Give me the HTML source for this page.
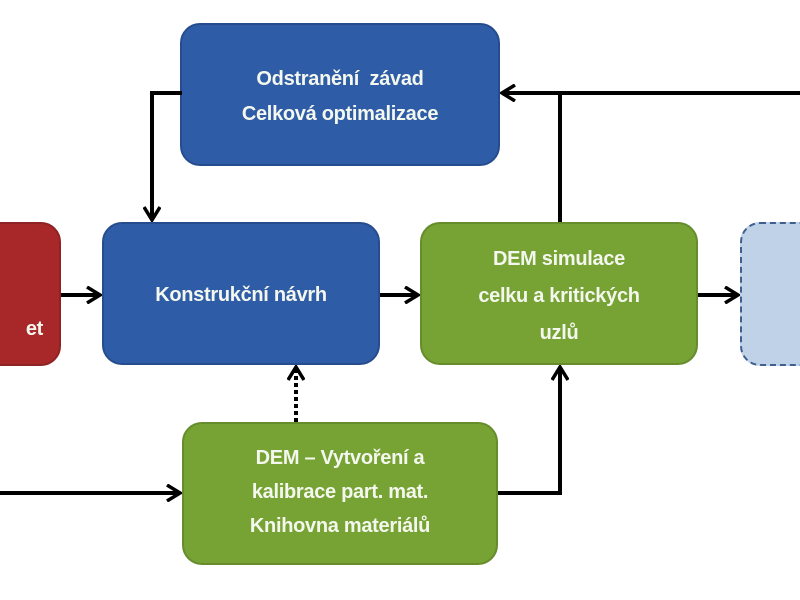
<!DOCTYPE html>
<html><head><meta charset="utf-8"><style>
body{margin:0;width:800px;height:600px;background:#fff;overflow:hidden;position:relative;font-family:"Liberation Sans",sans-serif}
.b{position:absolute;border-radius:20px;color:#f4f7ee;font-weight:bold;font-size:20px;display:flex;align-items:center;justify-content:center;text-align:center;line-height:35px;box-sizing:border-box;letter-spacing:-0.3px}
.blue{background:#2e5ca6;border:2px solid #254d8e}
.green{background:#77a234;border:2px solid #668c2c}
</style></head><body>
<div class="b" style="left:-40px;top:222px;width:101px;height:144px;background:#a8282a;border:2px solid #8e2224;justify-content:flex-end;padding:70px 16px 0 0">et</div>
<div class="b blue" style="left:180px;top:23px;width:320px;height:143px;padding-top:4px">Odstranění&nbsp; závad<br>Celková optimalizace</div>
<div class="b blue" style="left:102px;top:222px;width:278px;height:143px;padding-top:4px">Konstrukční návrh</div>
<div class="b green" style="left:420px;top:222px;width:278px;height:143px;line-height:37px;padding-top:6px">DEM simulace<br>celku a kritických<br>uzlů</div>
<div class="b" style="left:740px;top:222px;width:100px;height:144px;background:#c0d2e8;border:2px dashed #3f5f8f"></div>
<div class="b green" style="left:182px;top:422px;width:316px;height:143px;line-height:34px;padding-bottom:4px">DEM – Vytvoření a<br>kalibrace part. mat.<br>Knihovna materiálů</div>
<svg width="800" height="600" style="position:absolute;left:0;top:0">
<defs><marker id="a" markerWidth="16" markerHeight="18" refX="14" refY="9" orient="auto" markerUnits="userSpaceOnUse"><path d="M1,1 L14,9 L1,17" fill="none" stroke="#000" stroke-width="3.5"/></marker></defs>
<g stroke="#000" stroke-width="4" fill="none">
<path d="M800,93 H502" marker-end="url(#a)"/>
<path d="M560,222 V93"/>
<path d="M182,93 H152 V220" marker-end="url(#a)"/>
<path d="M61,295 H100" marker-end="url(#a)"/>
<path d="M380,295 H418" marker-end="url(#a)"/>
<path d="M698,295 H738" marker-end="url(#a)"/>
<path d="M0,493 H180" marker-end="url(#a)"/>
<path d="M498,493 H560 V367" marker-end="url(#a)"/>
<path d="M296,422 V367" stroke-dasharray="4,3" marker-end="url(#a)"/>
</g></svg>
</body></html>
